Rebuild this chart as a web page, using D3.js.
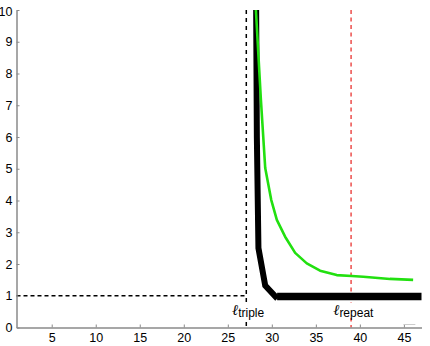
<!DOCTYPE html>
<html><head><meta charset="utf-8">
<script src="https://cdn.jsdelivr.net/npm/d3@7"></script>
<style>body{margin:0;background:#fff}svg{display:block}</style>
</head><body>
<script>
const xTicks = [5,10,15,20,25,30,35,40,45];
const yTicks = [0,1,2,3,4,5,6,7,8,9,10];
const blackX = [28.22, 28.3, 28.48, 29.25, 30.4];
const blackY = [10, 6, 2.5, 1.32, 0.98];
const floorX = [30.6, 47];
const floorY = [0.98, 0.98];
const greenX = [28.19, 28.76, 29.25, 29.93, 30.57, 31.51, 32.65, 33.97, 35.48, 37.37, 39.07, 40.39, 43.41, 46.05];
const greenY = [10, 7.17, 5.02, 4.02, 3.39, 2.86, 2.35, 2.02, 1.79, 1.65, 1.62, 1.60, 1.53, 1.50];
const lTriple = 27.1, lRepeat = 39.0, yRef = 1;

const W=430,H=346;
const x = d3.scaleLinear().domain([1,47]).range([16.5,421.5]);
const y = d3.scaleLinear().domain([0,10]).range([327.5,10]);
const svg = d3.select("body").append("svg").attr("width",W).attr("height",H);
const font = "'Liberation Sans', Arial, sans-serif";

// reference lines
svg.append("line").attr("x1",x(1)).attr("x2",x(lTriple)).attr("y1",y(yRef)).attr("y2",y(yRef))
  .attr("stroke","#000").attr("stroke-width",1.3).attr("stroke-dasharray","4,3");
svg.append("line").attr("x1",x(lTriple)).attr("x2",x(lTriple)).attr("y1",y(10)).attr("y2",y(0))
  .attr("stroke","#000").attr("stroke-width",1.5).attr("stroke-dasharray","4,4");
svg.append("line").attr("x1",x(lRepeat)).attr("x2",x(lRepeat)).attr("y1",y(10)).attr("y2",y(0))
  .attr("stroke","#e8221e").attr("stroke-width",1.2).attr("stroke-dasharray","4,3.5");

const clip = svg.append("clipPath").attr("id","c").append("rect")
  .attr("x",x(1)).attr("y",y(10)).attr("width",x(47)-x(1)+2).attr("height",y(0)-y(10));
const line = d3.line().x(d=>x(d[0])).y(d=>y(d[1]));
const g = svg.append("g").attr("clip-path","url(#c)");
g.append("path").attr("d",line(blackX.map((v,i)=>[v,blackY[i]])))
  .attr("fill","none").attr("stroke","#000").attr("stroke-width",6).attr("stroke-linecap","square");
g.append("path").attr("d",line(floorX.map((v,i)=>[v,floorY[i]])))
  .attr("fill","none").attr("stroke","#000").attr("stroke-width",7.5);
g.append("path").attr("d",line(greenX.map((v,i)=>[v,greenY[i]])))
  .attr("fill","none").attr("stroke","#22e010").attr("stroke-width",2.6).attr("stroke-linejoin","round");

// labels with white background
function lab(xv, sub){
  const t = svg.append("text").attr("x",x(xv)).attr("y",315).attr("text-anchor","middle")
    .attr("font-family","'DejaVu Serif', serif").attr("font-size",15).attr("font-style","italic");
  t.append("tspan").text("ℓ");
  t.append("tspan").attr("font-family",font).attr("font-style","normal").attr("font-size",12).attr("dy",2).text(sub);
  const bb = t.node().getBBox();
  svg.insert("rect", "text").attr("x",bb.x-1).attr("y",bb.y+2).attr("width",bb.width+2).attr("height",bb.height-4).attr("fill","#fff");
}
lab(lTriple+0.2,"triple");
lab(lRepeat+0.25,"repeat");

// axes
const axCol = "#8a8a8a";
const xa = svg.append("g").attr("transform",`translate(0,${y(0)})`)
  .call(d3.axisBottom(x).tickValues(xTicks).tickSize(-3).tickSizeOuter(0).tickPadding(5.5));
const ya = svg.append("g").attr("transform",`translate(${x(1)},0)`)
  .call(d3.axisLeft(y).tickValues(yTicks).tickSize(-3).tickSizeOuter(0).tickPadding(4));
[xa,ya].forEach(a=>{
  a.select(".domain").attr("stroke",axCol).attr("stroke-width",1.5);
  a.selectAll(".tick line").attr("stroke",axCol).attr("stroke-width",1);
  a.selectAll("text").attr("font-family",font).attr("font-size",12.5).attr("fill","#000");
});
ya.selectAll(".tick text").filter(d=>d===10).attr("dy","0.42em");
// small gray mark near bottom right
svg.append("line").attr("x1",x(44.95)).attr("x2",x(46.3)).attr("y1",324.5).attr("y2",324.5)
  .attr("stroke","#ccc").attr("stroke-width",1);
</script>
</body></html>
